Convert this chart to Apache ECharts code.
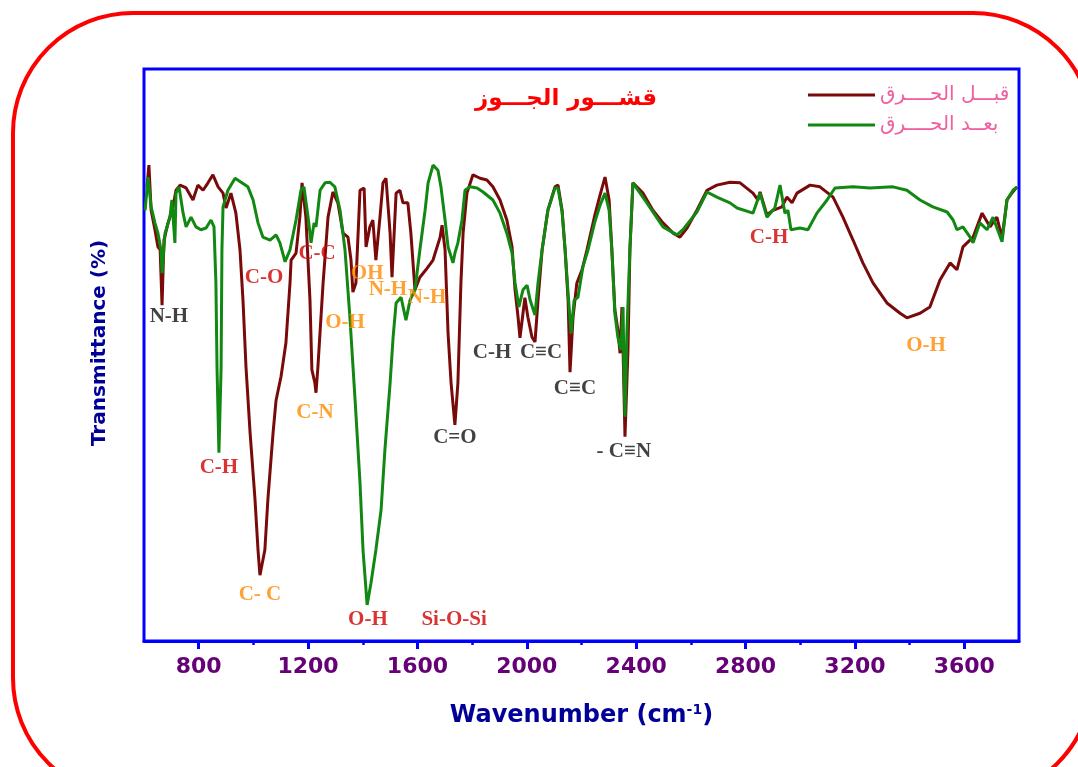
<!DOCTYPE html>
<html><head><meta charset="utf-8">
<script src="https://cdn.jsdelivr.net/npm/echarts@6/dist/echarts.min.js"></script>
<style>html,body{margin:0;padding:0;background:#fff}#c{width:1078px;height:767px}</style>
</head><body><div id="c"></div>
<script>
// ---- DATA ----
const seriesNames = ['قبـــل الحــــرق', 'بعــد الحــــرق'];
const titleText = 'قشـــور الجـــوز';
const xTickLabels = [800, 1200, 1600, 2000, 2400, 2800, 3200, 3600];
const xMinorTicks = [1000, 1400, 1800, 2200, 2600, 3000, 3400];

// Before burning (wavenumber, transmittance)
const beforeW = [611,618,626,640,651,659,666,673,688,706,717,732,754,779,797,816,834,852,871,889,900,918,936,951,962,973,988,1006,1017,1024,1042,1053,1072,1083,1101,1119,1134,1138,1156,1170,1178,1192,1207,1214,1225,1229,1236,1255,1273,1291,1309,1328,1346,1357,1364,1375,1390,1405,1412,1426,1437,1448,1463,1474,1485,1500,1507,1522,1536,1547,1565,1576,1591,1609,1631,1657,1683,1690,1701,1712,1723,1737,1748,1759,1767,1781,1803,1829,1854,1876,1902,1927,1946,1957,1968,1975,1986,1993,2004,2019,2030,2041,2056,2077,2103,2114,2129,2140,2151,2158,2169,2183,2202,2220,2249,2268,2286,2301,2311,2322,2333,2341,2348,2352,2359,2370,2377,2388,2425,2461,2498,2535,2560,2586,2622,2659,2695,2743,2780,2827,2845,2853,2878,2900,2933,2951,2970,2988,3036,3072,3120,3156,3193,3229,3266,3317,3365,3390,3438,3474,3511,3548,3573,3595,3632,3665,3694,3719,3738,3756,3774,3793];
const beforeT = [79.4,83.2,75.3,71.9,68.9,68.4,58.7,70.1,73.1,75.9,78.8,79.7,79.2,77.1,79.7,78.8,80.1,81.5,79.4,78.3,75.7,78.3,74.8,68.4,59.6,47.9,36.4,24.7,15.9,11.5,15.9,24.7,36.4,42.1,46.2,52.1,62.6,66.6,67.8,74.1,80.1,74.1,59.6,47.4,45.1,43.4,47.9,62.6,74.1,78.5,76.6,71.3,70.6,66.6,61.0,62.6,78.8,79.2,68.9,72.4,73.6,66.6,74.1,80.1,80.9,71.3,63.6,78.3,78.8,76.6,76.6,71.3,61.4,63.6,64.9,66.6,70.6,72.7,68.4,53.8,45.1,37.8,45.1,62.6,71.3,78.3,81.5,80.9,80.6,79.4,77.1,73.6,68.9,61.4,56.6,53.0,57.3,60.0,56.6,53.1,52.3,59.6,68.4,75.3,79.4,79.7,75.3,68.4,59.6,47.0,56.6,62.6,64.9,68.4,74.5,78.0,81.1,77.1,68.4,57.9,54.4,50.3,58.4,50.9,35.7,50.9,68.4,80.1,78.3,75.3,73.1,71.3,70.6,72.2,75.3,78.8,79.7,80.2,80.1,78.3,77.1,78.5,74.5,75.3,75.9,77.6,76.6,78.3,79.7,79.4,77.6,74.1,70.1,66.1,62.6,59.1,57.3,56.5,57.3,58.4,63.1,66.1,64.9,68.9,70.6,74.8,72.4,74.1,70.5,77.1,78.3,79.4];

// After burning (wavenumber, transmittance)
const afterW = [604,615,626,640,651,662,666,677,695,702,713,717,728,743,754,772,790,808,827,845,856,863,867,874,882,885,889,907,933,955,980,999,1017,1035,1061,1083,1097,1116,1134,1156,1174,1185,1200,1211,1222,1229,1244,1262,1280,1298,1317,1335,1353,1372,1390,1401,1416,1430,1448,1467,1481,1500,1511,1522,1540,1558,1573,1591,1609,1628,1639,1657,1675,1686,1701,1712,1730,1737,1748,1763,1774,1792,1818,1840,1876,1902,1927,1946,1957,1971,1986,2001,2012,2030,2041,2056,2077,2103,2114,2129,2140,2151,2162,2173,2187,2205,2224,2249,2268,2286,2301,2311,2322,2333,2344,2352,2355,2359,2366,2377,2388,2439,2498,2549,2571,2622,2659,2695,2743,2769,2827,2853,2878,2907,2926,2944,2955,2966,2999,3028,3061,3098,3127,3193,3255,3339,3390,3438,3485,3537,3559,3573,3595,3621,3632,3657,3683,3705,3738,3756,3778,3793];
const afterT = [75.3,81.1,75.9,73.1,71.3,68.4,64.3,71.3,74.1,77.1,69.6,78.3,79.4,74.8,72.4,74.1,72.4,71.9,72.2,73.6,72.4,62.6,47.9,32.9,47.9,68.4,75.9,78.8,80.9,80.2,79.4,77.1,73.1,70.6,70.1,71.0,69.6,66.3,68.4,73.6,78.8,79.4,74.1,69.6,73.1,72.4,78.8,80.1,80.2,79.4,75.3,68.4,56.6,42.1,27.6,15.9,6.3,10.1,15.9,22.9,33.4,45.1,53.1,59.1,60.1,56.1,59.6,61.4,68.4,75.3,80.1,83.2,82.3,79.4,73.6,68.9,66.1,67.8,69.6,73.6,78.8,79.4,79.2,78.5,77.1,74.8,71.3,67.8,62.6,58.4,61.4,62.2,59.6,57.0,62.6,68.4,75.3,79.2,79.2,75.0,68.4,60.8,53.8,59.6,60.1,65.4,68.4,73.3,76.2,78.3,75.3,68.4,57.3,53.1,50.9,58.4,47.9,39.2,53.8,68.4,80.1,76.6,72.4,71.0,71.9,75.0,78.5,77.6,76.6,75.7,74.8,78.3,74.1,75.7,79.7,74.8,75.3,71.9,72.2,71.9,74.8,77.1,79.2,79.4,79.2,79.4,78.8,77.1,75.9,75.0,73.6,71.9,72.4,70.6,69.6,73.1,71.9,74.1,69.8,77.1,78.8,79.4];

// Peak annotations
const annText = ['N-H','C-H','C-O','C-C','C- C','C-N','O-H','OH','N-H','N-H','O-H','Si-O-Si','C=O','C-H','C≡C','C≡C','- C≡N','C-H','O-H'];
const annW    = [691, 874, 1039, 1233, 1024, 1225, 1335, 1416, 1492, 1635, 1419, 1734, 1737, 1873, 2052, 2176, 2355, 2886, 3460];
const annT    = [56.8, 30.4, 63.6, 67.8, 8.2, 40.0, 55.6, 64.2, 61.4, 60.0, 3.7, 3.8, 35.5, 50.5, 50.5, 44.2, 33.2, 70.6, 51.7];
const annKind = ['k','r','r','r','o','o','o','o','o','o','r','r','k','k','k','k','k','r','o'];

// ---- STYLE ----
const kindColor = {k: '#111111', r: '#d00000', o: '#ff8a00'};
const zip = (a, b) => a.map((v, i) => [v, b[i]]);

const chart = echarts.init(document.getElementById('c'), null, {renderer: 'canvas'});
chart.setOption({
  animation: false,
  backgroundColor: '#ffffff',
  title: {
    text: titleText, left: 561, top: 83, textAlign: 'center',
    textStyle: {color: '#ff0000', fontSize: 23, fontWeight: 'bold', fontFamily: 'DejaVu Sans'}
  },
  legend: {
    orient: 'vertical', left: 803, top: 79, itemGap: 8,
    itemWidth: 67, itemHeight: 3, icon: 'rect',
    textStyle: {color: '#f0609e', fontSize: 20, lineHeight: 22, fontFamily: 'DejaVu Sans'},
    data: seriesNames
  },
  grid: {left: 144, top: 69, right: 59, bottom: 126, show: true, borderColor: '#0000ff', borderWidth: 3, backgroundColor: 'transparent'},
  xAxis: [{
    type: 'value', min: 600, max: 3800,
    name: 'Wavenumber (cm{sup|-1})', nameLocation: 'middle', nameGap: 62,
    nameTextStyle: {color: '#000099', fontSize: 24, fontWeight: 'bold', fontFamily: 'DejaVu Sans',
      rich: {sup: {fontSize: 14, fontWeight: 'bold', color: '#000099', verticalAlign: 'top', padding: [0,0,11,0], fontFamily: 'DejaVu Sans'}}},
    axisLine: {show: true, lineStyle: {color: '#0000ff', width: 3}},
    axisTick: {show: true, length: 8, lineStyle: {color: '#0000ff', width: 3}, customValues: xTickLabels},
    axisLabel: {show: true, customValues: xTickLabels, margin: 15, color: '#660077', fontSize: 22, fontWeight: 'bold', fontFamily: 'DejaVu Sans',
      formatter: v => String(v)},
    splitLine: {show: false}
  }, {
    type: 'value', min: 600, max: 3800, position: 'bottom',
    axisLine: {show: false},
    axisTick: {show: true, length: 4, lineStyle: {color: '#0000ff', width: 2.5}, customValues: xMinorTicks},
    axisLabel: {show: false},
    splitLine: {show: false}
  }],
  yAxis: {
    type: 'value', min: 0, max: 100,
    name: 'Transmittance (%)', nameLocation: 'middle', nameGap: 34,
    nameTextStyle: {color: '#000099', fontSize: 20, fontWeight: 'bold', fontFamily: 'DejaVu Sans', padding: [0, 0, 0, 24]},
    axisLine: {show: false}, axisTick: {show: false}, axisLabel: {show: false}, splitLine: {show: false}
  },
  series: [{
    name: seriesNames[0], type: 'line', data: zip(beforeW, beforeT),
    showSymbol: false, symbol: 'none', color: '#7a0a0a', lineStyle: {width: 3, color: '#7a0a0a'}, z: 2
  }, {
    name: seriesNames[1], type: 'line', data: zip(afterW, afterT),
    showSymbol: false, symbol: 'none', color: '#118811', lineStyle: {width: 3, color: '#118811'}, z: 3
  }, {
    type: 'scatter', symbolSize: 0, silent: true, z: 5,
    data: annText.map((t, i) => ({
      value: [annW[i], annT[i]], name: t,
      label: {show: true, position: 'inside', formatter: t, color: kindColor[annKind[i]],
        fontSize: 21, fontWeight: 'bold', fontFamily: 'Liberation Serif'}
    }))
  }],
  graphic: [{
    type: 'rect', z: -1, silent: true,
    shape: {x: 13, y: 13, width: 1080, height: 785, r: 120},
    style: {fill: 'none', stroke: '#ff0000', lineWidth: 4}
  }]
});
</script>
</body></html>
